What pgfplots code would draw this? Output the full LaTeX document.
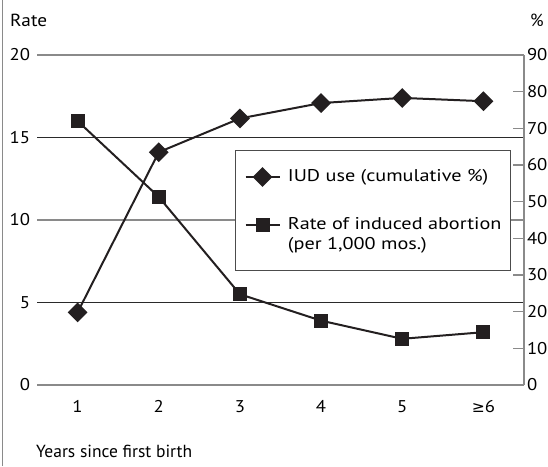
\documentclass[border=0pt]{standalone}
\usepackage{fontspec}
\setmainfont{PT Sans}
\newfontfamily\legfont[FakeStretch=1.19]{PT Sans}
\newfontfamily\tickfont[FakeStretch=1.1]{PT Sans}
\newfontfamily\symfont{DejaVu Sans}
\usepackage{pgfplots}
\usepackage{pgfplotstable}
\pgfplotsset{compat=1.18}
\definecolor{ink}{HTML}{231F20}
\definecolor{axgray}{HTML}{8A8A8A}
\definecolor{gridc}{HTML}{2A2A2A}

\pgfplotstableread{
x rate pct
1 16.0 19.8
2 11.4 63.5
3 5.5  72.7
4 3.9  76.9
5 2.8  78.3
6 3.2  77.4
}\data

\begin{document}
\fontsize{17.5pt}{20pt}\selectfont
\begin{tikzpicture}[x=1pt,y=1pt,font=\fontsize{17.5pt}{20pt}\selectfont]
\useasboundingbox (0,0) rectangle (548,466);
\draw[axgray, line width=1.2pt] (2.5,0) -- (2.5,466);
\node[anchor=base west, inner sep=0pt] at (10,439) {\tickfont Rate};
\node[anchor=base west, inner sep=0pt] at (530,439) {\%};
\node[anchor=base west, inner sep=0pt] at (36,8.5) {Years since first birth};

\begin{axis}[
  at={(37pt,81pt)}, anchor=south west, scale only axis,
  width=487pt, height=330pt,
  xmin=0.5, xmax=6.5, ymin=0, ymax=20,
  axis x line*=bottom, axis y line*=left,
  x axis line style={draw=axgray, line width=1.4pt, -},
  y axis line style={draw=none},
  ytick={0,10,20},
  ytick style={draw=none},
  ymajorgrids, major grid style={draw=axgray, line width=1.4pt},
  extra y ticks={5,15},
  extra y tick style={grid=major, major grid style={draw=gridc, line width=1pt}, tick style={draw=none}},
  xtick={1,2,3,4,5,6},
  xticklabels={1,2,3,4,5,{{\symfont\fontsize{15.5pt}{18pt}\selectfont ≥}6}},
  xtick style={draw=none},
  ticklabel style={font=\tickfont\fontsize{17pt}{19pt}\selectfont},
  xticklabel style={text height=12pt, text depth=0pt, anchor=north, yshift=-9.5pt},
  extra x ticks={1.5,2.5,3.5,4.5,5.5},
  extra x tick labels={},
  extra x tick style={grid=none, tick align=inside, major tick length=7pt,
     tick style={draw=axgray, line width=1.2pt}},
  /pgf/number format/assume math mode=true,
  yticklabel style={xshift=-1pt},
  clip=false,
]
\addplot[ink, line width=2pt, mark=square*, mark size=6pt, mark options={solid}]
  table[x=x, y=rate] {\data};
\end{axis}

\begin{axis}[
  at={(37pt,81pt)}, anchor=south west, scale only axis,
  width=487pt, height=330pt,
  xmin=0.5, xmax=6.5, ymin=0, ymax=90,
  axis x line=none, axis y line*=right,
  y axis line style={draw=axgray, line width=1.4pt, -},
  ytick={0,10,...,90},
  ytick style={draw=axgray, line width=1.2pt},
  tick align=inside, major tick length=11pt,
  ticklabel style={font=\tickfont\fontsize{17pt}{19pt}\selectfont},
  yticklabel style={xshift=-3pt},
  /pgf/number format/assume math mode=true,
  clip=false,
  legend style={at={(0.4066,0.712)}, anchor=north west,
    draw=black!70, line width=1pt, fill=white,
    inner xsep=9pt, inner ysep=18pt,
    row sep=32pt,
    nodes={inner sep=0pt},
    /tikz/every odd column/.append style={column sep=7.4pt},
    cells={anchor=west, align=left},
    font=\legfont\fontsize{17pt}{20pt}\selectfont},
  legend cell align=left,
  legend image code/.code={\draw[mark repeat=2, mark phase=2] plot coordinates {(0pt,0pt)(17pt,0pt)(34pt,0pt)};},
]
\addplot[ink, line width=2pt, mark=square*, mark size=6pt, mark options={solid, rotate=45}]
  table[x=x, y=pct] {\data};
\addlegendentry{IUD use (cumulative \%)}
\addlegendimage{ink, line width=2pt, mark=square*, mark size=6pt, mark options={solid},
  legend image code/.code={\draw[mark repeat=2, mark phase=2] plot coordinates {(0pt,10.2pt)(17pt,10.2pt)(34pt,10.2pt)};}}
\addlegendentry{Rate of induced abortion\\(per 1,000 mos.)}
\end{axis}
\end{tikzpicture}
\end{document}
